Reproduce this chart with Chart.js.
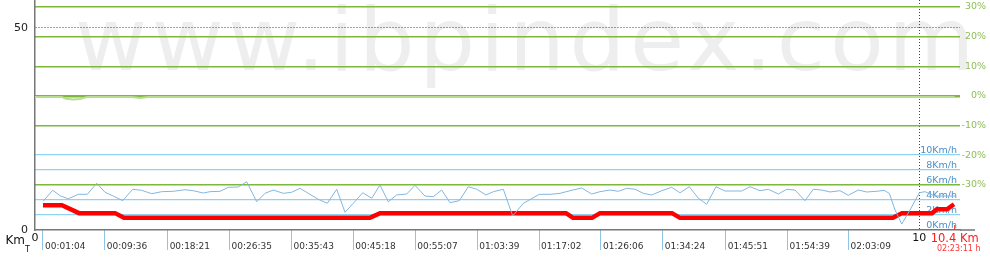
<!DOCTYPE html>
<html>
<head>
<meta charset="utf-8">
<script src="https://cdn.jsdelivr.net/npm/chart.js@4.4.1/dist/chart.umd.min.js"></script>
<style>
html, body { margin: 0; padding: 0; background: #fff; }
canvas { display: block; }
</style>
</head>
<body>
<canvas id="profile" width="990" height="270"></canvas>
<script>
// distance axis (km)
var distTicks = [0, 10, 10.4];
var distLabels = ['0', '10', '10.4 Km'];
var totalTime = '02:23:11 h';

// elapsed time marks along the route
var timeKm = [0.09, 0.79, 1.50, 2.20, 2.90, 3.60, 4.30, 5.00, 5.70, 6.40, 7.10, 7.81, 8.51, 9.20];
var timeLabels = ['00:01:04', '00:09:36', '00:18:21', '00:26:35', '00:35:43', '00:45:18', '00:55:07',
                  '01:03:39', '01:17:02', '01:26:06', '01:34:24', '01:45:51', '01:54:39', '02:03:09'];

var elevTicks = [0, 50];
var gradeTicks = [-30, -20, -10, 0, 10, 20, 30];
var speedTicks = [0, 2, 4, 6, 8, 10];

// speed (km/h)
var speedKm = [0.094,0.200,0.291,0.377,0.490,0.591,0.698,0.792,0.885,0.992,1.105,1.207,1.320,1.433,1.564,1.696,1.790,1.903,1.979,2.092,
  2.186,2.299,2.394,2.507,2.601,2.695,2.808,2.903,2.997,3.091,3.204,3.305,3.412,3.506,3.599,3.706,3.808,3.901,3.995,4.090,
  4.203,4.297,4.410,4.504,4.599,4.693,4.798,4.900,4.995,5.100,5.183,5.296,5.402,5.522,5.703,5.824,5.937,6.050,6.182,6.295,
  6.389,6.502,6.596,6.691,6.785,6.879,6.974,7.087,7.200,7.294,7.399,7.501,7.596,7.701,7.803,7.897,7.992,8.086,8.199,8.292,
  8.406,8.500,8.594,8.707,8.801,8.896,8.990,9.103,9.197,9.310,9.405,9.518,9.601,9.661,9.725,9.801,9.895,10.000,10.064,10.177,10.404];
var speedVal = [3.87,5.29,4.53,4.17,4.76,4.76,6.23,5.03,4.53,3.91,5.43,5.29,4.84,5.11,5.16,5.37,5.24,4.93,5.11,5.16,
  5.69,5.73,6.44,3.77,4.89,5.33,4.89,5.03,5.56,4.89,4.09,3.56,5.43,2.36,3.56,4.97,4.23,6.00,3.77,4.67,
  4.80,5.96,4.53,4.44,5.33,3.64,3.91,5.77,5.43,4.67,5.11,5.43,1.87,3.56,4.76,4.76,4.89,5.24,5.60,4.80,
  5.11,5.33,5.16,5.56,5.43,4.89,4.67,5.24,5.69,4.97,5.77,4.23,3.43,5.77,5.20,5.20,5.20,5.77,5.24,5.43,
  4.80,5.43,5.33,3.91,5.43,5.33,5.07,5.24,4.63,5.33,5.07,5.16,5.29,4.89,2.67,0.80,2.67,4.97,5.11,4.53,4.53];

// red profile (drawn on the km/h scale)
var redKm = [0.090,0.305,0.498,0.905,1.006,3.788,3.901,6.005,6.084,6.299,6.389,7.203,7.294,9.702,9.804,10.144,10.200,10.313,10.392];
var redVal = [3.29,3.29,2.25,2.25,1.62,1.62,2.25,2.25,1.62,1.62,2.25,2.25,1.62,1.62,2.25,2.25,2.76,2.76,3.43];

// grade (%)
var gradeKm = [0, 0.30, 0.35, 0.43, 0.51, 0.59, 1.09, 1.19, 1.28, 10.40];
var gradeVal = [-0.3, -0.3, -0.9, -1.2, -1.0, -0.3, -0.3, -0.7, -0.3, -0.3];

var FONT = '"DejaVu Sans", Verdana, sans-serif';
var XMAX = 10.46;
var NONE = 'rgba(0,0,0,0)';

function pts(xs, ys) {
  return xs.map(function (x, i) { return {x: x, y: ys[i]}; });
}
function fixTicks(list) {
  return function (s) { s.ticks = list.map(function (v) { return {value: v}; }); };
}
function fitTo(w, h) {
  return function (s) {
    if (w !== null) s.width = w;
    if (h !== null) s.height = h;
    s.paddingTop = s.paddingBottom = s.paddingLeft = s.paddingRight = 0;
  };
}
function tickIs(c, v) { return c.tick && c.tick.value === v; }

var decor = {
  id: 'decor',
  beforeDraw: function (chart) {
    var c = chart.ctx;
    c.save();
    c.font = '88px ' + FONT;
    c.letterSpacing = '4.7px';
    c.fillStyle = '#eeeeee';
    c.textBaseline = 'alphabetic';
    c.fillText('www.ibpindex.com', 75, 70);
    c.restore();
  },
  afterDraw: function (chart) {
    var c = chart.ctx, a = chart.chartArea, xs = chart.scales.x;
    var x0 = xs.getPixelForValue(0), xEnd = xs.getPixelForValue(10.4);
    c.save();
    c.strokeStyle = '#777';
    c.lineWidth = 1.5;
    c.beginPath();
    c.moveTo(a.right, a.bottom);
    c.lineTo(a.right + 15, a.bottom);
    c.stroke();
    c.strokeStyle = '#ff2020';
    c.lineWidth = 1;
    c.beginPath();
    c.moveTo(xEnd, a.bottom - 5);
    c.lineTo(xEnd, a.bottom);
    c.stroke();
    c.fillStyle = '#111';
    c.textBaseline = 'top';
    c.textAlign = 'right';
    c.font = '12px ' + FONT;
    c.fillText('Km', x0 - 10, a.bottom + 5);
    c.font = '8px ' + FONT;
    c.fillText('T', x0 - 5, a.bottom + 16);
    c.fillStyle = '#ff3333';
    c.textAlign = 'center';
    c.fillText(totalTime, xEnd + 4, a.bottom + 15);
    c.restore();
  }
};

new Chart(document.getElementById('profile').getContext('2d'), {
  type: 'line',
  data: {
    datasets: [
      {data: pts(gradeKm, gradeVal), yAxisID: 'yGrade', borderColor: '#b9dd8f', borderWidth: 2, pointRadius: 0},
      {data: pts(speedKm, speedVal), yAxisID: 'ySpeed', borderColor: '#84b6df', borderWidth: 1, pointRadius: 0},
      {data: pts(redKm, redVal), yAxisID: 'ySpeed', borderColor: '#ff0000', borderWidth: 4.5, pointRadius: 0}
    ]
  },
  options: {
    responsive: false,
    animation: false,
    layout: {padding: {left: 0, top: 0, bottom: 0, right: 4}},
    plugins: {legend: {display: false}, tooltip: {enabled: false}},
    scales: {
      x: {
        type: 'linear', position: 'bottom', min: 0, max: XMAX,
        afterBuildTicks: fixTicks(distTicks), afterFit: fitTo(null, 40),
        ticks: {
          autoSkip: false, maxRotation: 0, padding: 2,
          callback: function (v, i) { return distLabels[i]; },
          color: function (c) { return c.index === 2 ? '#ff1a1a' : '#111'; },
          font: function (c) { return c.index === 2 ? {family: FONT, size: 11.5} : {family: FONT, size: 11}; }
        },
        grid: {drawTicks: false, lineWidth: 1, color: function (c) { return c.index === 1 ? '#444' : NONE; }},
        border: {display: true, color: '#777', width: 1.5, dash: [1, 2]}
      },
      xTime: {
        type: 'linear', axis: 'x', position: {yElev: 0}, min: 0, max: XMAX,
        afterBuildTicks: fixTicks(timeKm), afterFit: fitTo(null, 0),
        ticks: {
          autoSkip: false, maxRotation: 0, align: 'start', labelOffset: 2, padding: -9,
          color: '#333', font: {family: FONT, size: 9},
          callback: function (v, i) { return timeLabels[i]; }
        },
        grid: {drawOnChartArea: false, drawTicks: true, tickLength: 20, color: '#8fc4e6', lineWidth: 1},
        border: {display: false}
      },
      yElev: {
        position: 'left', min: 0, max: 56.9,
        afterBuildTicks: fixTicks(elevTicks), afterFit: fitTo(35, null),
        ticks: {padding: 7, color: '#222', font: {family: FONT, size: 11}},
        grid: {drawTicks: false, lineWidth: 1, color: function (c) { return tickIs(c, 50) ? '#444' : NONE; }},
        border: {display: true, color: '#777', width: 1.5, dash: [1, 2]}
      },
      ySpeed: {
        position: 'right', weight: 0, min: 0, max: 30.67,
        afterBuildTicks: fixTicks(speedTicks), afterFit: fitTo(0, null),
        ticks: {
          mirror: true, padding: -3, labelOffset: -4, color: '#4a8fc9', font: {family: FONT, size: 9.5},
          callback: function (v) { return v + 'Km/h'; }
        },
        grid: {drawTicks: false, lineWidth: 1.2, color: function (c) { return (tickIs(c, 0) || tickIs(c, 6)) ? NONE : '#8fd3f2'; }},
        border: {display: false}
      },
      yGrade: {
        position: 'right', weight: 1, min: -45.16, max: 32.36,
        afterBuildTicks: fixTicks(gradeTicks), afterFit: fitTo(26, null),
        ticks: {
          crossAlign: 'far', padding: 2, color: '#8dbd55', font: {family: FONT, size: 9.5},
          callback: function (v) { return v + '%'; }
        },
        grid: {
          drawTicks: false,
          color: function (c) { return tickIs(c, -20) ? NONE : '#7db83c'; },
          lineWidth: function (c) { return tickIs(c, 0) ? 2.5 : 1.4; }
        },
        border: {display: false}
      }
    }
  },
  plugins: [decor]
});
</script>
</body>
</html>
